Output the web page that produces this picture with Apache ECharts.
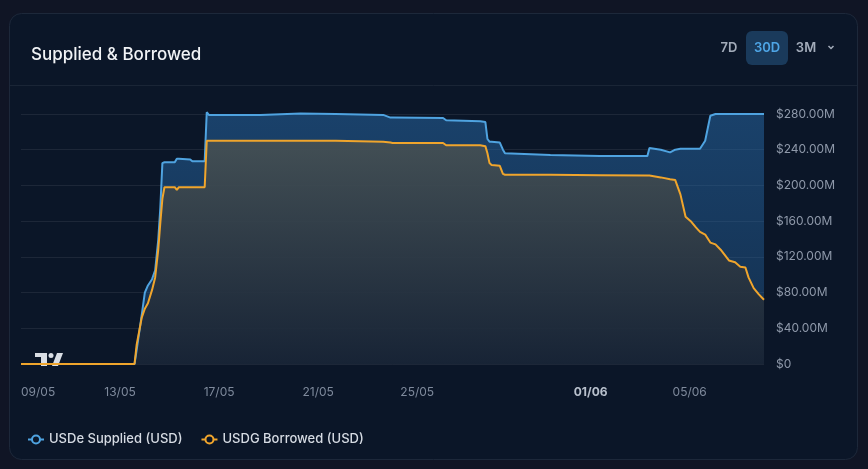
<!DOCTYPE html>
<html>
<head>
<meta charset="utf-8">
<script src="https://cdn.jsdelivr.net/npm/echarts@6/dist/echarts.min.js"></script>
<style>
html,body{margin:0;padding:0;background:#101525;}
#chart{width:868px;height:469px;}
</style>
</head>
<body>
<div id="chart"></div>
<script>
// hours since 09/05 00:00
const hours = [0,110,112,117,120,123,127,130,133,135,137,139,149,151,153,164,166,178,180,182,232,271,305,306,351,358,360,409,412,445,450,452,454,456,464,467,469,513,561,607,609,620,629,634,639,644,649,654,658,663,668,673,678,686,692,697,702,705,710,715,720];
// USD millions
const supplied = [0,0,15,55,80,88,95,105,139,175,225,226,226,230,230,229,227,227,282,279,279,280.5,280,280,279,276,276,275.5,273,272,271,252,249,249,248,240,236,234,233,233,242,240,237,240,241,241,241,241,241,250,278,280,280,280,280,280,280,280,280,280,280];
const borrowed = [0,0,21,52,62,68,83,97,128,158,185,198,198,195,198,198,198,198,250,250,250,250,250,249,249,248,247.5,247.5,245,245,244,236,225,223,222,213,212,212,211.5,211,211,209,207,206,190,165,160,153,148,145,136,134,128,116,114,109,108,97,85,78,72];
const xTickHours = [0,96,192,288,384,552,648];
const xTickLabels = ['09/05','13/05','17/05','21/05','25/05','01/06','05/06'];
const boldLabel = '01/06';
const yTicks = [0,40,80,120,160,200,240,280];
const seriesNames = ['USDe Supplied (USD)','USDG Borrowed (USD)'];
const title = 'Supplied & Borrowed';
const ranges = ['7D','30D','3M'];

const suppliedData = hours.map((h,i)=>[h,supplied[i]]);
const borrowedData = hours.map((h,i)=>[h,borrowed[i]]);

const font = 'Inter, "Noto Sans", sans-serif';
const cardBg = '#0b1628';
const chart = echarts.init(document.getElementById('chart'), null, {renderer:'canvas'});

const option = {
  backgroundColor:'#101525',
  animation:false,
  textStyle:{fontFamily:font},
  title:{text:title,left:26,top:41,textStyle:{color:'#f1f3f6',fontSize:17,fontWeight:500,fontFamily:font}},
  graphic:[
    {type:'rect',z:-10,silent:true,shape:{x:9.5,y:13.5,width:848,height:446,r:12},style:{fill:cardBg,stroke:'#1d283a',lineWidth:1}},
    {type:'line',z:-9,silent:true,shape:{x1:10,y1:85.5,x2:857,y2:85.5},style:{stroke:'#1a2536',lineWidth:1}},
    {type:'rect',z:5,shape:{x:746,y:31,width:42,height:34,r:6},style:{fill:'#1a3a5b'}},
    {type:'text',z:6,style:{text:ranges[0],x:729,y:48,align:'center',verticalAlign:'middle',fill:'#a3acba',font:'600 13px '+font}},
    {type:'text',z:6,style:{text:ranges[1],x:767,y:48,align:'center',verticalAlign:'middle',fill:'#4ea5e6',font:'600 13px '+font}},
    {type:'text',z:6,style:{text:ranges[2],x:806,y:48,align:'center',verticalAlign:'middle',fill:'#a3acba',font:'600 13px '+font}},
    {type:'polyline',z:6,shape:{points:[[828.5,46],[831,48.5],[833.5,46]]},style:{stroke:'#a3acba',lineWidth:1.5,fill:null}},
    // TradingView attribution mark
    {type:'group',z:20,silent:true,children:[
      {type:'rect',shape:{x:33,y:351,width:33,height:16},style:{fill:cardBg}},
      {type:'rect',shape:{x:35,y:353,width:12,height:4},style:{fill:'#d9dde4'}},
      {type:'rect',shape:{x:41,y:353,width:6,height:13},style:{fill:'#d9dde4'}},
      {type:'circle',shape:{cx:51,cy:355.5,r:2.5},style:{fill:'#d9dde4'}},
      {type:'polygon',shape:{points:[[52,366],[57,353],[63,353],[58,366]]},style:{fill:'#d9dde4'}}
    ]}
  ],
  legend:{
    left:22,top:428,itemWidth:16,itemHeight:10,itemGap:18,
    textStyle:{color:'#d6dbe3',fontSize:13,fontWeight:500,fontFamily:font},
    data:seriesNames
  },
  grid:{left:21,right:104,top:114,bottom:105},
  xAxis:{
    type:'value',min:0,max:720,
    axisLine:{show:false},axisTick:{show:false},splitLine:{show:false},
    axisLabel:{
      customValues:xTickHours,
      alignMinLabel:'left',
      margin:22,color:'#7f8a9c',fontSize:12,fontFamily:font,
      formatter:function(v){
        const i = xTickHours.indexOf(v);
        const t = i>=0 ? xTickLabels[i] : '';
        return t===boldLabel ? '{b|'+t+'}' : t;
      },
      rich:{b:{fontWeight:'bold',color:'#b9c1cd',fontSize:12,fontFamily:font}}
    }
  },
  yAxis:{
    type:'value',position:'right',min:yTicks[0],max:yTicks[yTicks.length-1],interval:40,
    axisLine:{show:false},axisTick:{show:false},
    splitLine:{lineStyle:{color:'rgba(255,255,255,0.075)',width:1}},
    axisLabel:{
      margin:12,color:'#8f99aa',fontSize:12,fontFamily:font,
      formatter:function(v){return v===0?'$0':'$'+v.toFixed(2)+'M';}
    }
  },
  series:[
    {
      name:seriesNames[0],type:'line',data:suppliedData,showSymbol:false,symbol:'circle',clip:false,
      color:'#4fa3e0',
      itemStyle:{color:cardBg,borderColor:'#4fa3e0',borderWidth:1.5},
      lineStyle:{color:'#4fa3e0',width:2},
      areaStyle:{color:new echarts.graphic.LinearGradient(0,0,0,1,[
        {offset:0,color:'rgba(40,108,172,0.72)'},
        {offset:1,color:'rgba(40,108,172,0.42)'}
      ])}
    },
    {
      name:seriesNames[1],type:'line',data:borrowedData,showSymbol:false,symbol:'circle',clip:false,
      color:'#f0a52c',
      itemStyle:{color:cardBg,borderColor:'#f0a52c',borderWidth:1.5},
      lineStyle:{color:'#f0a52c',width:2},
      areaStyle:{opacity:1,color:new echarts.graphic.LinearGradient(0,0,0,1,[
        {offset:0,color:'rgba(72,81,82,0.88)'},
        {offset:1,color:'rgba(24,34,50,0.88)'}
      ])}
    }
  ]
};
chart.setOption(option);
</script>
</body>
</html>
